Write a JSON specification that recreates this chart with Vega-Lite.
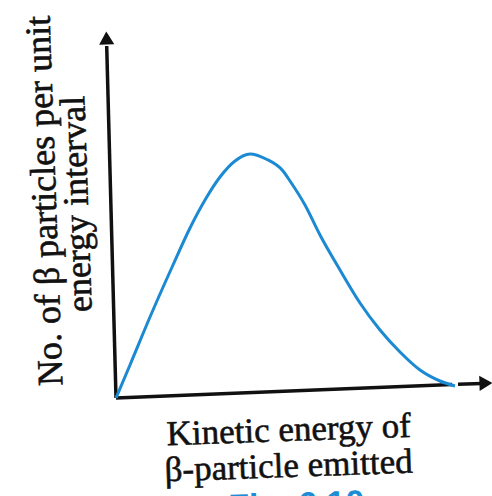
{
  "$schema": "https://vega.github.io/schema/vega-lite/v6.json",
  "autosize": "none",
  "width": 376,
  "height": 370,
  "padding": {"left": 116, "top": 28, "right": 0, "bottom": 98},
  "background": "white",
  "config": {"view": {"stroke": null}},
  "datasets": {
    "curve": [
      {"x": 0, "y": 0}, {"x": 14, "y": 33}, {"x": 34, "y": 81}, {"x": 57, "y": 133},
      {"x": 74, "y": 170}, {"x": 89, "y": 198}, {"x": 104, "y": 221}, {"x": 119, "y": 237},
      {"x": 134, "y": 244}, {"x": 150, "y": 239}, {"x": 167, "y": 227}, {"x": 174, "y": 217},
      {"x": 189, "y": 193}, {"x": 204, "y": 163}, {"x": 224, "y": 128}, {"x": 244, "y": 95},
      {"x": 264, "y": 68}, {"x": 284, "y": 46}, {"x": 304, "y": 28}, {"x": 324, "y": 17},
      {"x": 339, "y": 12}
    ],
    "axes": [
      {"axis": "x", "x": 0, "y": 0}, {"axis": "x", "x": 336, "y": 13.4},
      {"axis": "x2", "x": 342, "y": 13.7}, {"axis": "x2", "x": 366, "y": 14.6},
      {"axis": "y", "x": 0, "y": 0}, {"axis": "y", "x": -9.3, "y": 352}
    ],
    "arrows": [
      {"x": -9.5, "y": 360, "shape": "triangle-up"},
      {"x": 370, "y": 14.8, "shape": "triangle-right"}
    ],
    "labels": [
      {"x": -71, "y": 197, "text": "No. of β particles per unit", "angle": 268, "size": 36},
      {"x": -39, "y": 194, "text": "energy interval", "angle": 268, "size": 36}
    ],
    "xlabels": [
      {"x": 173, "y": -43, "text": "Kinetic energy of", "angle": 358, "size": 35},
      {"x": 173, "y": -79, "text": "β-particle emitted", "angle": 358, "size": 35}
    ]
  },
  "encoding": {
    "x": {"field": "x", "type": "quantitative", "scale": {"domain": [0, 376], "nice": false, "zero": false}, "axis": null},
    "y": {"field": "y", "type": "quantitative", "scale": {"domain": [0, 370], "nice": false, "zero": false}, "axis": null}
  },
  "layer": [
    {
      "data": {"name": "axes"},
      "mark": {"type": "line", "color": "#111111", "strokeWidth": 3.5, "strokeCap": "butt"},
      "encoding": {"detail": {"field": "axis"}}
    },
    {
      "data": {"name": "arrows"},
      "mark": {"type": "point", "filled": true, "color": "#111111", "size": 230, "opacity": 1, "angle": 358},
      "encoding": {"shape": {"field": "shape", "type": "nominal", "scale": null}}
    },
    {
      "data": {"name": "curve"},
      "mark": {"type": "line", "color": "#1b8ad3", "strokeWidth": 3, "interpolate": "monotone"},
      "encoding": {}
    },
    {
      "data": {"name": "labels"},
      "mark": {"type": "text", "font": "Liberation Serif", "color": "#111111", "stroke": "#111111", "strokeWidth": 0.6, "align": "center", "baseline": "middle"},
      "encoding": {
        "text": {"field": "text"},
        "size": {"field": "size", "type": "quantitative", "scale": null},
        "angle": {"field": "angle", "type": "quantitative", "scale": null}
      }
    },
    {
      "data": {"name": "xlabels"},
      "mark": {"type": "text", "font": "Liberation Serif", "color": "#111111", "stroke": "#111111", "strokeWidth": 0.6, "align": "center", "baseline": "alphabetic"},
      "encoding": {
        "text": {"field": "text"},
        "size": {"field": "size", "type": "quantitative", "scale": null},
        "angle": {"field": "angle", "type": "quantitative", "scale": null}
      }
    },
    {
      "data": {"values": [{"x": 180, "y": -91, "text": "Fig. 6.10"}]},
      "mark": {"type": "text", "font": "Liberation Sans", "fontWeight": "bold", "fontSize": 34, "color": "#1d8dd6", "align": "center", "baseline": "top", "angle": 358},
      "encoding": {"text": {"field": "text"}}
    }
  ]
}
